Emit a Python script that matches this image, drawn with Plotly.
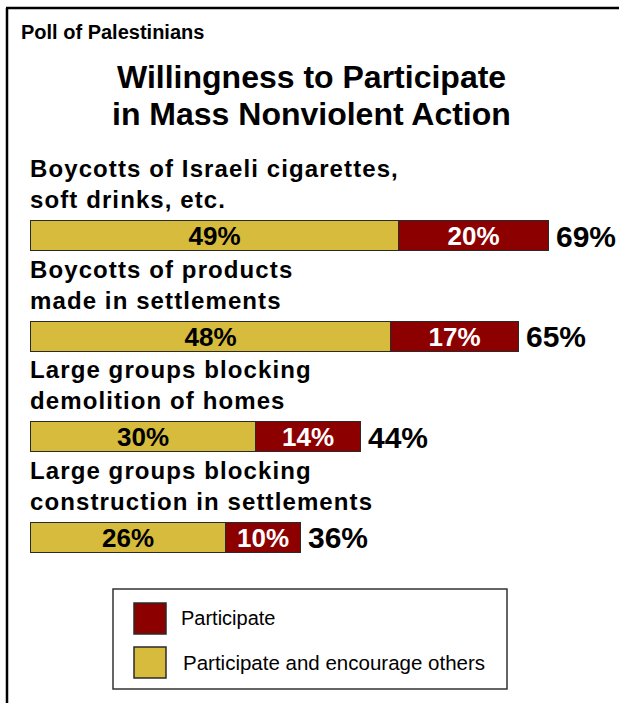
import plotly.graph_objects as go

# Poll results (percent of respondents)
categories = [
    "Boycotts of Israeli cigarettes,<br>soft drinks, etc.",
    "Boycotts of products<br>made in settlements",
    "Large groups blocking<br>demolition of homes",
    "Large groups blocking<br>construction in settlements",
]
encourage = [49, 48, 30, 26]      # Participate and encourage others
participate = [20, 17, 14, 10]    # Participate
series_names = ["Participate", "Participate and encourage others"]

YELLOW = "#D6BB3D"
RED = "#8C0000"
EDGE = "#2a2a2a"
FONT = "Arial, Liberation Sans, sans-serif"

W, H = 619, 703
PX_PER_PCT = 7.5
X0 = 31          # pixel where 0% sits
ROW0, ROW_STEP = 236, 100.5   # pixel centre of first row, row spacing
BAR_PX = 30

ypos = list(range(len(categories)))
totals = [a + b for a, b in zip(encourage, participate)]


def px(x):
    return x / W


def py(y):
    return 1 - y / H


fig = go.Figure()
fig.add_trace(go.Bar(
    y=ypos, x=encourage, orientation="h", name=series_names[1],
    marker=dict(color=YELLOW, line=dict(color=EDGE, width=1)),
    text=[f"{v}%" for v in encourage], textposition="inside",
    insidetextanchor="middle", textangle=0, constraintext="none",
    textfont=dict(family=FONT, size=26, color="black", weight="bold"),
    width=BAR_PX / ROW_STEP, showlegend=False, hoverinfo="skip",
))
fig.add_trace(go.Bar(
    y=ypos, x=participate, orientation="h", name=series_names[0],
    marker=dict(color=RED, line=dict(color=EDGE, width=1)),
    text=[f"{v}%" for v in participate], textposition="inside",
    insidetextanchor="middle", textangle=0, constraintext="none",
    textfont=dict(family=FONT, size=26, color="white", weight="bold"),
    width=BAR_PX / ROW_STEP, showlegend=False, hoverinfo="skip",
))

annotations = []
# totals to the right of each bar
for i, t in enumerate(totals):
    annotations.append(dict(
        x=t, y=i, xref="x", yref="y", text=f"{t}%", showarrow=False,
        xanchor="left", yanchor="middle", xshift=5,
        font=dict(family=FONT, size=30, color="black", weight="bold"),
    ))
# category labels above each bar
for i, c in enumerate(categories):
    annotations.append(dict(
        x=0, y=i, xref="x", yref="y", text=c, showarrow=False,
        xanchor="left", yanchor="middle", align="left", yshift=52, xshift=-3,
        font=dict(family=FONT, size=24, color="black", weight="bold"),
    ))
# headings
annotations += [
    dict(x=px(19), y=py(32), xref="paper", yref="paper", text="Poll of Palestinians",
         showarrow=False, xanchor="left", yanchor="middle",
         font=dict(family=FONT, size=20, color="black", weight="bold")),
    dict(x=px(311), y=py(77), xref="paper", yref="paper", text="Willingness to Participate",
         showarrow=False, xanchor="center", yanchor="middle",
         font=dict(family=FONT, size=32, color="black", weight="bold")),
    dict(x=px(311), y=py(114), xref="paper", yref="paper", text="in Mass Nonviolent Action",
         showarrow=False, xanchor="center", yanchor="middle",
         font=dict(family=FONT, size=32, color="black", weight="bold")),
]
# legend labels
annotations += [
    dict(x=px(179), y=py(618), xref="paper", yref="paper", text=series_names[0],
         showarrow=False, xanchor="left", yanchor="middle",
         font=dict(family=FONT, size=20, color="black")),
    dict(x=px(181), y=py(662), xref="paper", yref="paper", text=series_names[1],
         showarrow=False, xanchor="left", yanchor="middle",
         font=dict(family=FONT, size=20.5, color="black")),
]

shapes = [
    # frame: left and top rules
    dict(type="line", xref="paper", yref="paper", x0=px(7), x1=px(7), y0=py(8), y1=py(H + 2),
         line=dict(color="black", width=2.5)),
    dict(type="line", xref="paper", yref="paper", x0=px(6), x1=px(W + 2), y0=py(8), y1=py(8),
         line=dict(color="black", width=2.5)),
    # legend box and swatches
    dict(type="rect", xref="paper", yref="paper", x0=px(113), x1=px(507), y0=py(589), y1=py(689),
         line=dict(color="#333333", width=1.5), fillcolor="white"),
    dict(type="rect", xref="paper", yref="paper", x0=px(134), x1=px(166), y0=py(603), y1=py(634),
         line=dict(color=EDGE, width=1.5), fillcolor=RED),
    dict(type="rect", xref="paper", yref="paper", x0=px(134), x1=px(166), y0=py(647), y1=py(678),
         line=dict(color=EDGE, width=1.5), fillcolor=YELLOW),
]

fig.update_layout(
    width=W, height=H, margin=dict(l=0, r=0, t=0, b=0),
    paper_bgcolor="white", plot_bgcolor="white",
    barmode="stack", bargap=0,
    xaxis=dict(range=[-X0 / PX_PER_PCT, (W - X0) / PX_PER_PCT], visible=False, fixedrange=True),
    yaxis=dict(range=[(H - ROW0) / ROW_STEP, -ROW0 / ROW_STEP], visible=False, fixedrange=True),
    annotations=annotations, shapes=shapes, showlegend=False,
)

# slightly open tracking on the category captions
post = """
var s = document.createElement('style');
s.textContent = '.annotation-text[style*="font-size: 24px"]{letter-spacing:1.1px}';
document.head.appendChild(s);
"""
fig.write_html("out.html", config={"displayModeBar": False}, post_script=post)
